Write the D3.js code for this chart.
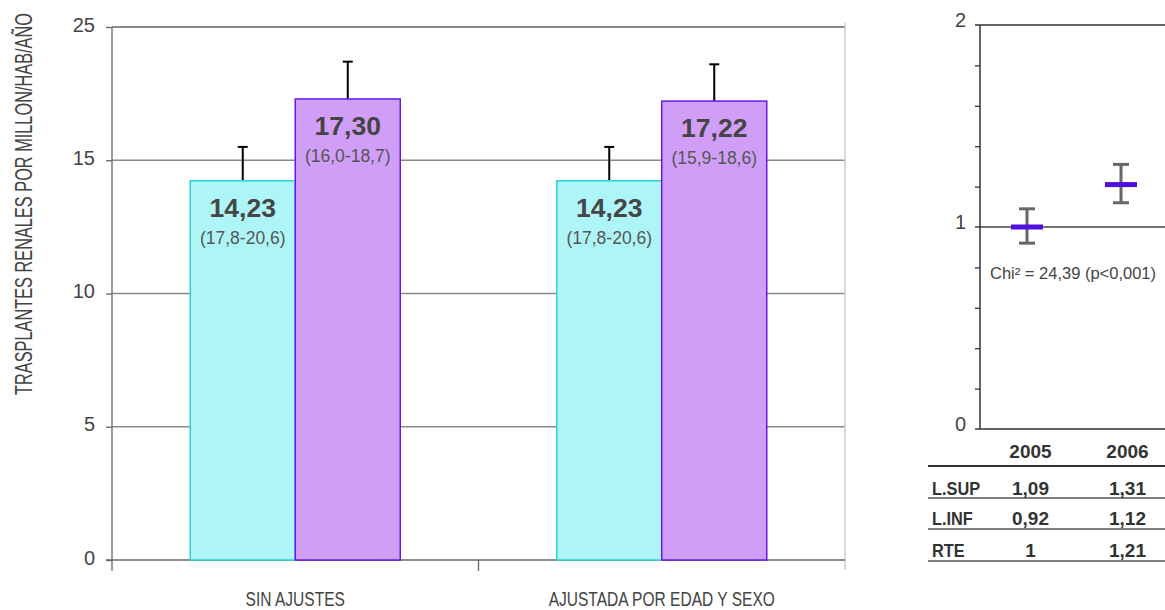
<!DOCTYPE html>
<html>
<head>
<meta charset="utf-8">
<script src="https://cdn.jsdelivr.net/npm/d3@7"></script>
<style>
  html, body { margin: 0; padding: 0; background: #fff; }
  svg { display: block; font-family: "Liberation Sans", Arial, sans-serif; }
</style>
</head>
<body>
<svg id="chart" width="1165" height="610"></svg>
<script>
// ---------- DATA ----------
const categories = ["SIN AJUSTES", "AJUSTADA POR EDAD Y SEXO"];
const seriesNames = ["2005", "2006"];
const values2005 = [14.23, 14.23];
const values2006 = [17.30, 17.22];
const errUpper2005 = [15.5, 15.5];
const errUpper2006 = [18.7, 18.6];
const ciText2005 = ["(17,8-20,6)", "(17,8-20,6)"];
const ciText2006 = ["(16,0-18,7)", "(15,9-18,6)"];
const yTickValues = [0, 5, 10, 15, 20];
const yTickLabels = ["0", "5", "10", "15", "25"];
const yTitle = "TRASPLANTES RENALES POR MILLON/HAB/AÑO";

const years = ["2005", "2006"];
const rteValues = [1, 1.21];
const lsupValues = [1.09, 1.31];
const linfValues = [0.92, 1.12];
const rowLabels = ["L.SUP", "L.INF", "RTE"];
const rTickLabels = [0, 1, 2];
const rMinorTicks = [0.2, 0.4, 0.6, 0.8, 1.2, 1.4, 1.6, 1.8];
const chiText = "Chi² = 24,39 (p<0,001)";

// ---------- HELPERS ----------
const comma = v => String(v).replace(".", ",");
const fmt2 = v => d3.format(".2f")(v).replace(".", ",");
const svg = d3.select("#chart");

// ---------- LEFT CHART ----------
const L = { left: 112, right: 845, top: 27, bottom: 560 };
const y = d3.scaleLinear().domain([0, 20]).range([L.bottom, L.top]);
const x0 = d3.scaleBand().domain(categories).range([L.left, L.right]);
const gL = svg.append("g");

// gridlines
gL.append("g").selectAll("line").data([5, 10, 15]).join("line")
  .attr("x1", L.left).attr("x2", L.right)
  .attr("y1", d => y(d)).attr("y2", d => y(d))
  .attr("stroke", "#8a8a8a").attr("stroke-width", 1.3);
// top line
gL.append("line").attr("x1", L.left).attr("x2", L.right)
  .attr("y1", y(20)).attr("y2", y(20)).attr("stroke", "#666").attr("stroke-width", 1.3);
// right border
gL.append("line").attr("x1", L.right).attr("x2", L.right)
  .attr("y1", L.top - 4).attr("y2", L.bottom + 10).attr("stroke", "#c4c4c4").attr("stroke-width", 1.3);

// y axis
const yAxis = d3.axisLeft(y).tickValues(yTickValues)
  .tickFormat((d, i) => yTickLabels[i]).tickSize(6).tickPadding(11);
const yg = gL.append("g").attr("transform", `translate(${L.left},0)`).call(yAxis);
yg.attr("font-family", null);
yg.select(".domain").attr("stroke", "#666").attr("stroke-width", 1.3)
  .attr("d", `M0,${L.top}V${L.bottom + 11}`);
yg.selectAll(".tick line").attr("stroke", "#666").attr("stroke-width", 1.3);
yg.selectAll(".tick text").attr("fill", "#444").style("font-size", "20px")
  .attr("dy", "0.2em");

// x axis
const xg = gL.append("g").attr("transform", `translate(0,${L.bottom})`);
xg.append("line").attr("x1", L.left - 6).attr("x2", L.right).attr("y1", 0).attr("y2", 0)
  .attr("stroke", "#666").attr("stroke-width", 1.3);
xg.selectAll("line.cat").data(categories.slice(1)).join("line").attr("class", "cat")
  .attr("x1", d => x0(d)).attr("x2", d => x0(d)).attr("y1", 0).attr("y2", 11)
  .attr("stroke", "#666").attr("stroke-width", 1.3);
const catScaleX = 0.74;
xg.selectAll("text.cat").data(categories).join("text").attr("class", "cat")
  .attr("transform", d => `translate(${x0(d) + x0.bandwidth() / 2},46) scale(${catScaleX},1)`)
  .attr("text-anchor", "middle").attr("fill", "#444").style("font-size", "21px")
  .text(d => d);

// y title
gL.append("text")
  .attr("transform", `translate(32,204) rotate(-90) scale(0.71,1)`)
  .attr("text-anchor", "middle").attr("fill", "#444").style("font-size", "23px")
  .text(yTitle);

// bars
const x1 = d3.scaleBand().domain(seriesNames).range([-105, 105]);
const barData = [];
categories.forEach((c, i) => {
  barData.push({ cat: c, s: "2005", v: values2005[i], up: errUpper2005[i], ci: ciText2005[i] });
  barData.push({ cat: c, s: "2006", v: values2006[i], up: errUpper2006[i], ci: ciText2006[i] });
});
const fills = { "2005": "#aef5f7", "2006": "#d09ef6" };
const strokes = { "2005": "#2fd3d6", "2006": "#6419e6" };
const cx = d => x0(d.cat) + x0.bandwidth() / 2 + x1(d.s);

// error bars (drawn first, behind bars)
const eg = gL.append("g");
eg.selectAll("line.v").data(barData).join("line")
  .attr("x1", d => cx(d) + x1.bandwidth() / 2).attr("x2", d => cx(d) + x1.bandwidth() / 2)
  .attr("y1", d => y(d.v)).attr("y2", d => y(d.up))
  .attr("stroke", "#000").attr("stroke-width", 2);
eg.selectAll("line.c").data(barData).join("line")
  .attr("x1", d => cx(d) + x1.bandwidth() / 2 - 5).attr("x2", d => cx(d) + x1.bandwidth() / 2 + 5)
  .attr("y1", d => y(d.up)).attr("y2", d => y(d.up))
  .attr("stroke", "#000").attr("stroke-width", 2);

gL.append("g").selectAll("rect").data(barData).join("rect")
  .attr("x", d => cx(d)).attr("width", x1.bandwidth())
  .attr("y", d => y(d.v)).attr("height", d => y(0) - y(d.v))
  .attr("fill", d => fills[d.s]).attr("stroke", d => strokes[d.s]).attr("stroke-width", 1.5);

// labels in bars
const lg = gL.append("g");
lg.selectAll("text.val").data(barData).join("text")
  .attr("x", d => cx(d) + x1.bandwidth() / 2).attr("y", d => y(d.v) + 36)
  .attr("text-anchor", "middle").attr("fill", "#454545")
  .style("font-weight", "bold").style("font-size", "26.5px")
  .text(d => fmt2(d.v));
lg.selectAll("text.ci").data(barData).join("text")
  .attr("x", d => cx(d) + x1.bandwidth() / 2).attr("y", d => y(d.v) + 63)
  .attr("text-anchor", "middle").attr("fill", "#555").style("font-size", "17.5px")
  .text(d => d.ci);

// ---------- RIGHT CHART ----------
const R = { left: 980, right: 1165, top: 25, bottom: 429 };
const ry = d3.scaleLinear().domain([0, 2]).range([R.bottom, R.top]);
const rx = d3.scaleBand().domain(years).range([R.left, 1168]);
const gR = svg.append("g");

gR.append("line").attr("x1", R.left - 5).attr("x2", R.right).attr("y1", ry(2)).attr("y2", ry(2))
  .attr("stroke", "#333").attr("stroke-width", 1.3);
gR.append("line").attr("x1", R.left - 5).attr("x2", R.right).attr("y1", ry(1)).attr("y2", ry(1))
  .attr("stroke", "#444").attr("stroke-width", 1.3);
gR.append("line").attr("x1", R.left - 5).attr("x2", R.right).attr("y1", ry(0)).attr("y2", ry(0))
  .attr("stroke", "#333").attr("stroke-width", 1.5);
const ryAxis = d3.axisLeft(ry).tickValues(rMinorTicks).tickSize(5).tickFormat("");
const ryg = gR.append("g").attr("transform", `translate(${R.left},0)`).call(ryAxis);
ryg.select(".domain").attr("stroke", "#333").attr("stroke-width", 1.5)
  .attr("d", `M0,${R.top}V${R.bottom}`);
ryg.selectAll(".tick line").attr("stroke", "#333").attr("stroke-width", 1.3);
gR.selectAll("text.rl").data(rTickLabels).join("text").attr("class", "rl")
  .attr("x", 966).attr("y", d => ry(d) - 5).attr("dy", "0.35em")
  .attr("text-anchor", "end").attr("fill", "#444").style("font-size", "20px")
  .text(d => d);

const pts = years.map((yr, i) => ({ yr, rte: rteValues[i], sup: lsupValues[i], inf: linfValues[i] }));
const pcx = d => rx(d.yr) + rx.bandwidth() / 2;
const pg = gR.append("g");
pg.selectAll("line.w").data(pts).join("line")
  .attr("x1", pcx).attr("x2", pcx).attr("y1", d => ry(d.sup)).attr("y2", d => ry(d.inf))
  .attr("stroke", "#666").attr("stroke-width", 3);
pg.selectAll("line.cu").data(pts).join("line")
  .attr("x1", d => pcx(d) - 8).attr("x2", d => pcx(d) + 8).attr("y1", d => ry(d.sup)).attr("y2", d => ry(d.sup))
  .attr("stroke", "#666").attr("stroke-width", 3);
pg.selectAll("line.cl").data(pts).join("line")
  .attr("x1", d => pcx(d) - 8).attr("x2", d => pcx(d) + 8).attr("y1", d => ry(d.inf)).attr("y2", d => ry(d.inf))
  .attr("stroke", "#666").attr("stroke-width", 3);
pg.selectAll("rect").data(pts).join("rect")
  .attr("x", d => pcx(d) - 16).attr("width", 32)
  .attr("y", d => ry(d.rte) - 2.5).attr("height", 5)
  .attr("fill", "#5010dc");

gR.append("text").attr("x", 990).attr("y", 279).attr("fill", "#444")
  .style("font-size", "16.5px")
  .text(chiText);

// ---------- TABLE ----------
const tx = d3.scaleBand().domain(years).range([982, 1176]);
const tcx = yr => tx(yr) + tx.bandwidth() / 2;
const tg = svg.append("g").style("font-weight", "bold")
  .style("font-size", "19px").attr("fill", "#333");
tg.selectAll("text.h").data(years).join("text").attr("class", "h")
  .attr("x", tcx).attr("y", 458).attr("text-anchor", "middle").text(d => d);
const rowLines = [466, 498, 529, 561];
tg.selectAll("line").data(rowLines).join("line")
  .attr("x1", 928).attr("x2", 1165).attr("y1", d => d).attr("y2", d => d)
  .attr("stroke", (d, i) => i === 0 ? "#333" : "#555").attr("stroke-width", (d, i) => i === 0 ? 1.8 : 1.5);
const rowValues = [lsupValues, linfValues, rteValues];
const rowBase = [495, 525, 557];
const rowLabelScale = [0.86, 0.86, 0.86];
rowLabels.forEach((lab, r) => {
  tg.append("text").attr("transform", `translate(932,${rowBase[r]}) scale(${rowLabelScale[r]},1)`)
    .text(lab);
  tg.selectAll(`text.r${r}`).data(years).join("text").attr("class", `r${r}`)
    .attr("x", tcx).attr("y", rowBase[r]).attr("text-anchor", "middle")
    .text((yr, i) => comma(rowValues[r][i]));
});
</script>
</body>
</html>
